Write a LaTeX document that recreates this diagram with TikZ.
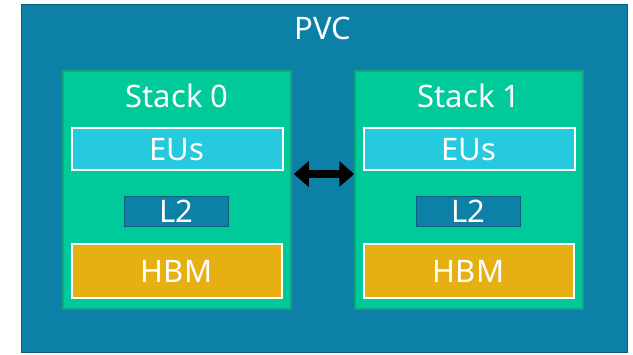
\documentclass[tikz,border=0pt]{standalone}
\usepackage{fontspec}
\setmainfont{Noto Sans}
\usetikzlibrary{arrows.meta}

\definecolor{pvc fill}{HTML}{0C80A6}
\definecolor{pvc edge}{HTML}{0A5E7C}
\definecolor{stack fill}{HTML}{00C99A}
\definecolor{stack edge}{HTML}{11A57C}
\definecolor{eu fill}{HTML}{27C9DE}
\definecolor{hbm fill}{HTML}{E6AF12}
\def\labelSize{\fontsize{31}{35}\selectfont}
\tikzset{
  pvcbox/.style={fill=pvc fill, draw=pvc edge, line width=1.5pt},
  stackbox/.style={fill=stack fill, draw=stack edge, line width=1.5pt},
  unitbox/.style={draw=white, line width=2pt, inner sep=0pt, text=white, font=\labelSize},
  label/.style={text=white, font=\labelSize, inner sep=0pt}
  }

\begin{document}
\begin{tikzpicture}[x=1pt, y=-1pt]
  \useasboundingbox (0, 0) rectangle (633, 355);

  \node[pvcbox, minimum width=606pt, minimum height=348pt] (pvc) at (324.5, 178.5) {};
  \node[label] (pvctitle) at (323, 28) {PVC};

  \foreach \x/\n in {177/0, 469/1} {
    \node[stackbox, minimum width=228pt, minimum height=238pt] (stack\n) at (\x, 190) {};
    \node[label] (title\n) at (\x, 96) {Stack \n};
    \node[unitbox, fill=eu fill, minimum width=211pt, minimum height=42pt] (eus\n) at (\x, 149.5) {EUs};
    \node[unitbox, fill=pvc fill, draw=pvc edge, line width=1.5pt,
          minimum width=104pt, minimum height=30pt] (ltwo\n) at (\x-0.5, 211.5) {L2};
    \node[unitbox, fill=hbm fill, minimum width=210pt, minimum height=54pt] (hbm\n) at (\x-0.5, 271.5) {HBM};
  }

  \draw[line width=8pt, {Triangle[width=25pt, length=15pt]}-{Triangle[width=25pt, length=15pt]}]
    ([yshift=16pt, xshift=2pt]stack0.east) -- ([yshift=16pt]stack1.west);
\end{tikzpicture}
\end{document}
